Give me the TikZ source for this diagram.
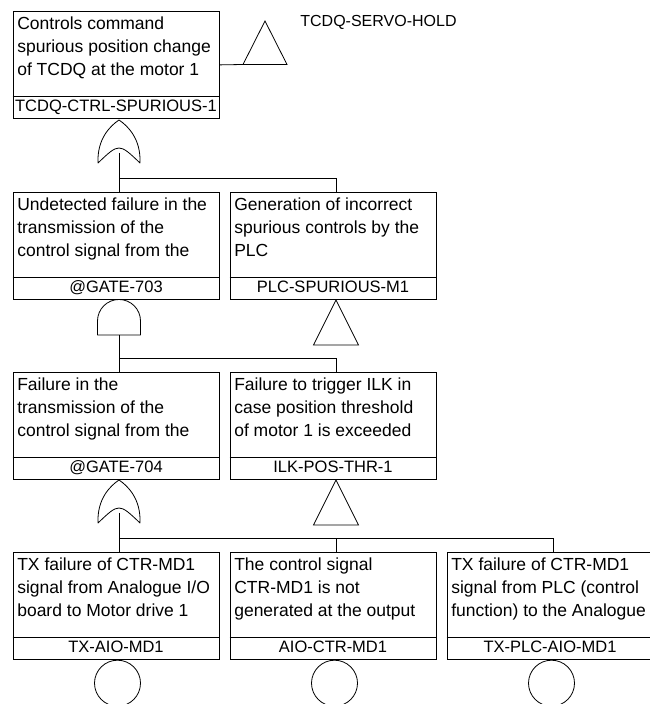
\documentclass[tikz,border=0pt]{standalone}
\usepackage{fontspec}
\setmainfont{Liberation Sans}

% fault-tree event box: name, top-centre position, description, identifier
\newcommand\faultevent[4]{%
  \node[evbox] (#1) at (#2) {};
  \draw ([yshift=22pt]#1.south west) -- ([yshift=22pt]#1.south east);
  \node[desctext] (#1-desc) at ([xshift=4.3pt,yshift=-2.6pt]#1.north west) {\strut #3};
  \node[tagtext] (#1-tag) at ([yshift=7.5pt]#1.south) {#4};
}

\begin{document}
\begin{tikzpicture}[x=1pt,y=1pt,line width=0.8pt,
  evbox/.style={draw,rectangle,anchor=north,minimum width=206pt,minimum height=107pt,inner sep=0pt},
  desctext/.style={anchor=north west,align=left,inner sep=0pt,font=\fontsize{17.5pt}{22.7pt}\selectfont},
  tagtext/.style={anchor=base,inner sep=0pt,font=\fontsize{16.5pt}{20pt}\selectfont},
  labeltext/.style={anchor=base west,inner sep=0pt,font=\fontsize{16pt}{20pt}\selectfont},
  basic/.style={draw,circle,anchor=north,minimum size=46pt,inner sep=0pt},
  gate/.style={draw,line join=round},
]
\useasboundingbox (0,0) rectangle (650,704);

% ---- events ----
\faultevent{ev1}{116,693}{Controls command\\spurious position change\\of TCDQ at the motor 1}{TCDQ-CTRL-SPURIOUS-1}
\faultevent{ev2}{116,512}{Undetected failure in the\\transmission of the\\control signal from the}{@GATE-703}
\faultevent{ev3}{333,512}{Generation of incorrect\\spurious controls by the\\PLC}{PLC-SPURIOUS-M1}
\faultevent{ev4}{116,332}{Failure in the\\transmission of the\\control signal from the}{@GATE-704}
\faultevent{ev5}{333,332}{Failure to trigger ILK in\\case position threshold\\of motor 1 is exceeded}{ILK-POS-THR-1}
\faultevent{ev6}{116,152}{TX failure of CTR-MD1\\signal from Analogue I/O\\board to Motor drive 1}{TX-AIO-MD1}
\faultevent{ev7}{333,152}{The control signal\\CTR-MD1 is not\\generated at the output}{AIO-CTR-MD1}
\faultevent{ev8}{550,152}{TX failure of CTR-MD1\\signal from PLC (control\\function) to the Analogue}{TX-PLC-AIO-MD1}

% ---- basic events ----
\node[basic] (c6) at ([xshift=1.5pt]ev6.south) {};
\node[basic] (c7) at ([xshift=1.5pt]ev7.south) {};
\node[basic] (c8) at ([xshift=1.5pt]ev8.south) {};

% ---- transfer triangles ----
\coordinate (servo-in) at (243,639.5);
\draw (servo-in) -- (265,683) -- (287,639.5) -- cycle;
\draw (ev1.east) -- (servo-in);
\node[labeltext] (servo-label) at (300,677.3) {TCDQ-SERVO-HOLD};

\draw (336,404) -- (358.5,359) -- (313.5,359) -- cycle;
\draw (336,224) -- (358.5,179) -- (313.5,179) -- cycle;

% ---- OR gate under ev1 ----
\coordinate (or1-out) at (119,551);
\draw[gate] (98,541) .. controls (97,565) and (110,578) .. (119,584)
  .. controls (128,578) and (141,565) .. (140,541)
  .. controls (119,561) .. (98,541) -- cycle;
\coordinate (bus1) at (119,526);
\draw (or1-out) -- (or1-out |- ev2.north);
\draw (bus1) -| ([xshift=3pt]ev3.north);

% ---- AND gate under ev2 ----
\coordinate (and1-out) at (119,369);
\draw[gate] (97.5,369) -- (97.5,383) arc[start angle=180,end angle=0,radius=21.5pt] -- (140.5,369) -- cycle;
\coordinate (bus2) at (119,346);
\draw (and1-out) -- (and1-out |- ev4.north);
\draw (bus2) -| ([xshift=3pt]ev5.north);

% ---- OR gate under ev4 ----
\coordinate (or2-out) at (119,191);
\draw[gate] (98,181) .. controls (97,205) and (110,218) .. (119,224)
  .. controls (128,218) and (141,205) .. (140,181)
  .. controls (119,201) .. (98,181) -- cycle;
\coordinate (bus3) at (119,166);
\draw (or2-out) -- (or2-out |- ev6.north);
\draw (bus3) -| ([xshift=3pt]ev8.north);
\draw ([xshift=3pt]ev7.north) -- ([xshift=3pt]ev7.north |- bus3);
\end{tikzpicture}
\end{document}
